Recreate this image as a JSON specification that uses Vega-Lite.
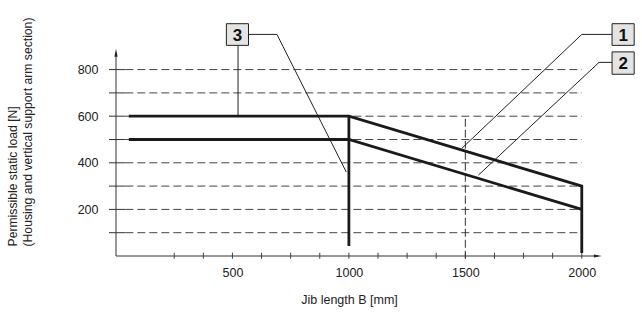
{
  "$schema": "https://vega.github.io/schema/vega-lite/v6.json",
  "width": 524,
  "height": 233,
  "autosize": {"type": "none"},
  "padding": {"left": 116, "top": 23, "right": 2, "bottom": 56},
  "background": "white",
  "config": {
    "view": {"stroke": null},
    "font": "Liberation Sans",
    "axis": {"labelFont": "Liberation Sans", "titleFont": "Liberation Sans", "labelColor": "#222", "titleColor": "#222", "titleFontWeight": "normal"}
  },
  "datasets": {
    "grid": [{"v": 100}, {"v": 200}, {"v": 300}, {"v": 400}, {"v": 500}, {"v": 600}, {"v": 700}, {"v": 800}],
    "xticks": [{"v": 250}, {"v": 375}, {"v": 500}, {"v": 625}, {"v": 750}, {"v": 875}, {"v": 1000}, {"v": 1125}, {"v": 1250}, {"v": 1375}, {"v": 1500}, {"v": 1625}, {"v": 1750}, {"v": 1875}, {"v": 2000}],
    "curves": [
      {"s": "A", "i": 0, "x": 55, "y": 600},
      {"s": "A", "i": 1, "x": 1000, "y": 600},
      {"s": "A", "i": 2, "x": 2000, "y": 300},
      {"s": "A", "i": 3, "x": 2000, "y": 13},
      {"s": "B", "i": 0, "x": 55, "y": 500},
      {"s": "B", "i": 1, "x": 1000, "y": 500},
      {"s": "B", "i": 2, "x": 2000, "y": 200},
      {"s": "C", "i": 0, "x": 1000, "y": 600},
      {"s": "C", "i": 1, "x": 1000, "y": 43}
    ],
    "leaders": [
      {"s": "L3a", "i": 0, "x": 524, "y": 600},
      {"s": "L3a", "i": 1, "x": 524, "y": 904},
      {"s": "L3b", "i": 0, "x": 569, "y": 951},
      {"s": "L3b", "i": 1, "x": 691, "y": 951},
      {"s": "L3b", "i": 2, "x": 989, "y": 360},
      {"s": "L1", "i": 0, "x": 2130, "y": 951},
      {"s": "L1", "i": 1, "x": 2000, "y": 951},
      {"s": "L1", "i": 2, "x": 1485, "y": 462},
      {"s": "L2", "i": 0, "x": 2130, "y": 831},
      {"s": "L2", "i": 1, "x": 2074, "y": 831},
      {"s": "L2", "i": 2, "x": 1556, "y": 347}
    ],
    "boxes": [
      {"label": "3", "x1": 474, "x2": 569, "y1": 904, "y2": 997, "cx": 521.5, "cy": 950.5},
      {"label": "1", "x1": 2130, "x2": 2225, "y1": 904, "y2": 997, "cx": 2177.5, "cy": 950.5},
      {"label": "2", "x1": 2130, "x2": 2225, "y1": 780, "y2": 876, "cx": 2177.5, "cy": 828}
    ],
    "axislines": [
      {"x": 0, "x2": 0, "y": 0, "y2": 872},
      {"x": 0, "x2": 2069, "y": 0, "y2": 0}
    ],
    "vline": [{"x": 1500, "y": -12, "y2": 600}]
  },
  "layer": [
    {
      "data": {"name": "curves"},
      "mark": {"type": "line", "color": "#1a1a1a", "strokeWidth": 2.8, "opacity": 0},
      "encoding": {
        "x": {
          "field": "x", "type": "quantitative",
          "scale": {"domain": [0, 2250], "nice": false, "zero": false},
          "axis": {
            "values": [500, 1000, 1500, 2000], "format": "d", "domain": false, "grid": false, "ticks": false,
            "labelPadding": 10, "labelFontSize": 12.5, "labelFlush": false,
            "title": "Jib length B [mm]", "titleFontSize": 12.5, "titleX": 233, "titleY": 37, "titleBaseline": "top"
          }
        },
        "y": {
          "field": "y", "type": "quantitative",
          "scale": {"domain": [0, 1000], "nice": false, "zero": false},
          "axis": {
            "values": [200, 400, 600, 800], "format": "d", "domain": false, "grid": false, "ticks": false,
            "labelPadding": 18, "labelFontSize": 12.5,
            "title": ["Permissible static load [N]", "(Housing and vertical support arm section)"],
            "titleFontSize": 12.2, "titleLineHeight": 15, "titleAngle": -90,
            "titleX": -110, "titleY": 223, "titleAlign": "left", "titleBaseline": "top"
          }
        },
        "detail": {"field": "s"},
        "order": {"field": "i"}
      }
    },
    {
      "data": {"name": "grid"},
      "mark": {"type": "rule", "color": "#444", "strokeWidth": 1, "strokeDash": [8, 4]},
      "encoding": {
        "x": {"datum": 40, "type": "quantitative", "scale": {"domain": [0, 2250], "nice": false, "zero": false}},
        "x2": {"datum": 2000},
        "y": {"field": "v", "type": "quantitative", "scale": {"domain": [0, 1000], "nice": false, "zero": false}}
      }
    },
    {
      "data": {"name": "grid"},
      "mark": {"type": "rule", "color": "#333", "strokeWidth": 1},
      "encoding": {
        "x": {"datum": -30, "type": "quantitative", "scale": {"domain": [0, 2250], "nice": false, "zero": false}},
        "x2": {"datum": 40},
        "y": {"field": "v", "type": "quantitative", "scale": {"domain": [0, 1000], "nice": false, "zero": false}}
      }
    },
    {
      "data": {"name": "vline"},
      "mark": {"type": "rule", "color": "#333", "strokeWidth": 1, "strokeDash": [8, 3]},
      "encoding": {
        "x": {"field": "x", "type": "quantitative", "scale": {"domain": [0, 2250], "nice": false, "zero": false}},
        "y": {"field": "y", "type": "quantitative", "scale": {"domain": [0, 1000], "nice": false, "zero": false}},
        "y2": {"field": "y2"}
      }
    },
    {
      "data": {"name": "xticks"},
      "mark": {"type": "rule", "color": "#444", "strokeWidth": 1},
      "encoding": {
        "x": {"field": "v", "type": "quantitative", "scale": {"domain": [0, 2250], "nice": false, "zero": false}},
        "y": {"datum": -12, "type": "quantitative", "scale": {"domain": [0, 1000], "nice": false, "zero": false}},
        "y2": {"datum": 14}
      }
    },
    {
      "data": {"name": "axislines"},
      "mark": {"type": "rule", "color": "#333", "strokeWidth": 1},
      "encoding": {
        "x": {"field": "x", "type": "quantitative", "scale": {"domain": [0, 2250], "nice": false, "zero": false}},
        "x2": {"field": "x2"},
        "y": {"field": "y", "type": "quantitative", "scale": {"domain": [0, 1000], "nice": false, "zero": false}},
        "y2": {"field": "y2"}
      }
    },
    {
      "data": {"values": [{"x": 0, "y": 872}]},
      "mark": {"type": "point", "shape": "M0,-1L0.4,1L-0.4,1Z", "filled": true, "color": "#222", "size": 64, "opacity": 1},
      "encoding": {
        "x": {"field": "x", "type": "quantitative", "scale": {"domain": [0, 2250], "nice": false, "zero": false}},
        "y": {"field": "y", "type": "quantitative", "scale": {"domain": [0, 1000], "nice": false, "zero": false}}
      }
    },
    {
      "data": {"values": [{"x": 2069, "y": 0}]},
      "mark": {"type": "point", "shape": "M1,0L-1,0.4L-1,-0.4Z", "filled": true, "color": "#222", "size": 64, "opacity": 1},
      "encoding": {
        "x": {"field": "x", "type": "quantitative", "scale": {"domain": [0, 2250], "nice": false, "zero": false}},
        "y": {"field": "y", "type": "quantitative", "scale": {"domain": [0, 1000], "nice": false, "zero": false}}
      }
    },
    {
      "data": {"name": "leaders"},
      "mark": {"type": "line", "color": "#222", "strokeWidth": 1},
      "encoding": {
        "x": {"field": "x", "type": "quantitative", "scale": {"domain": [0, 2250], "nice": false, "zero": false}},
        "y": {"field": "y", "type": "quantitative", "scale": {"domain": [0, 1000], "nice": false, "zero": false}},
        "detail": {"field": "s"},
        "order": {"field": "i"}
      }
    },
    {
      "data": {"name": "curves"},
      "mark": {"type": "line", "color": "#1a1a1a", "strokeWidth": 2.8, "strokeJoin": "miter", "strokeCap": "butt"},
      "encoding": {
        "x": {"field": "x", "type": "quantitative", "scale": {"domain": [0, 2250], "nice": false, "zero": false}},
        "y": {"field": "y", "type": "quantitative", "scale": {"domain": [0, 1000], "nice": false, "zero": false}},
        "detail": {"field": "s"},
        "order": {"field": "i"}
      }
    },
    {
      "data": {"name": "boxes"},
      "mark": {"type": "rect", "fill": "#e4e4e4", "stroke": "#222", "strokeWidth": 1},
      "encoding": {
        "x": {"field": "x1", "type": "quantitative", "scale": {"domain": [0, 2250], "nice": false, "zero": false}},
        "x2": {"field": "x2"},
        "y": {"field": "y1", "type": "quantitative", "scale": {"domain": [0, 1000], "nice": false, "zero": false}},
        "y2": {"field": "y2"}
      }
    },
    {
      "data": {"name": "boxes"},
      "mark": {"type": "text", "fontSize": 17, "fontWeight": "bold", "color": "#111", "align": "center", "baseline": "middle", "dy": 1},
      "encoding": {
        "x": {"field": "cx", "type": "quantitative", "scale": {"domain": [0, 2250], "nice": false, "zero": false}},
        "y": {"field": "cy", "type": "quantitative", "scale": {"domain": [0, 1000], "nice": false, "zero": false}},
        "text": {"field": "label"}
      }
    }
  ]
}
